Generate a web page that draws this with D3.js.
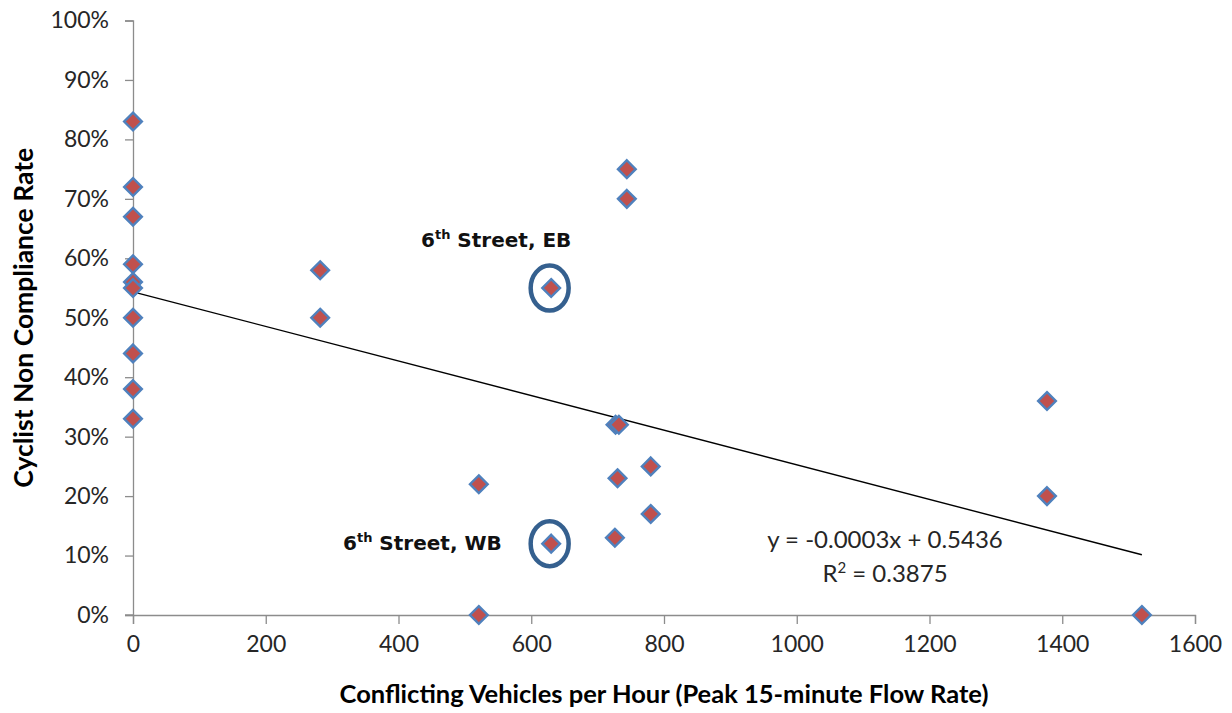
<!DOCTYPE html>
<html>
<head>
<meta charset="utf-8">
<script src="https://cdn.jsdelivr.net/npm/d3@7"></script>
<style>
  body { margin: 0; background: #fff; }
  svg { display: block; }
</style>
</head>
<body>
<div id="chart"></div>
<script>
// data
const flow = [0, 0, 0, 0, 0, 0, 0, 0, 0, 0,
              282, 282, 521, 521, 630, 630,
              744, 744, 727, 732, 730, 726, 780, 780,
              1377, 1377, 1520];
const rate = [0.83, 0.72, 0.67, 0.59, 0.56, 0.55, 0.50, 0.44, 0.38, 0.33,
              0.58, 0.50, 0.22, 0.00, 0.55, 0.12,
              0.75, 0.70, 0.32, 0.32, 0.23, 0.13, 0.25, 0.17,
              0.36, 0.20, 0.00];
const xTicks = [0, 200, 400, 600, 800, 1000, 1200, 1400, 1600];
const yTicks = [0, 0.1, 0.2, 0.3, 0.4, 0.5, 0.6, 0.7, 0.8, 0.9, 1.0];
// trendline (as drawn by the spreadsheet)
const trendSlope = -0.000291, trendIntercept = 0.5436;
const trendLabel = ["y = -0.0003x + 0.5436", "R", "2", " = 0.3875"];
// highlighted points
const callouts = [
  {x: 630, y: 0.55, label: "Street, EB", lx: 421, ly: 247},
  {x: 630, y: 0.12, label: "Street, WB", lx: 343, ly: 550}
];

const width = 1232, height = 713;
const margin = {top: 20.5, right: 37, bottom: 98, left: 133};

const svg = d3.select('#chart').append('svg')
    .attr('width', width)
    .attr('height', height);

const x = d3.scaleLinear().domain([0, 1600]).range([margin.left, width - margin.right]);
const y = d3.scaleLinear().domain([0, 1]).range([height - margin.bottom, margin.top]);

const font = "Lato, 'Open Sans', sans-serif";
const axisColor = '#8c8c8c';

// y axis
const yAxis = svg.append('g')
    .attr('transform', 'translate(' + x(0) + ',0)')
    .call(d3.axisLeft(y).tickValues(yTicks).tickFormat(d3.format('.0%')).tickSize(8).tickPadding(16));
// x axis
const xAxis = svg.append('g')
    .attr('transform', 'translate(0,' + y(0) + ')')
    .call(d3.axisBottom(x).tickValues(xTicks).tickFormat(d3.format('d')).tickSize(9).tickPadding(12));

[yAxis, xAxis].forEach(function(g){
    g.select('.domain').attr('stroke', axisColor).attr('stroke-width', 1.3);
    g.selectAll('.tick line').attr('stroke', axisColor).attr('stroke-width', 1.3);
    g.selectAll('.tick text')
        .attr('fill', '#262626')
        .style('font-family', font)
        .style('font-size', '23px');
});
// x axis line starts at the left end of the 0% tick
svg.append('line')
    .attr('x1', x(0) - 8).attr('x2', x(0))
    .attr('y1', y(0)).attr('y2', y(0))
    .attr('stroke', axisColor).attr('stroke-width', 1.3);

// axis titles
svg.append('text')
    .attr('x', (x(0) + x(1600)) / 2)
    .attr('y', 703)
    .attr('text-anchor', 'middle')
    .style('font-family', font)
    .style('font-weight', 'bold')
    .style('font-size', '25.5px')
    .text('Conflicting Vehicles per Hour (Peak 15-minute Flow Rate)');

svg.append('text')
    .attr('transform', 'translate(33,' + (y(0) + y(1)) / 2 + ') rotate(-90)')
    .attr('text-anchor', 'middle')
    .style('font-family', font)
    .style('font-weight', 'bold')
    .style('font-size', '26.5px')
    .text('Cyclist Non Compliance Rate');

// trendline
const xMax = d3.max(flow);
svg.append('line')
    .attr('x1', x(0)).attr('y1', y(trendIntercept))
    .attr('x2', x(xMax)).attr('y2', y(trendIntercept + trendSlope * xMax))
    .attr('stroke', '#000')
    .attr('stroke-width', 1.4);

// points
const diamond = d3.symbol().type(d3.symbolDiamond2).size(200);
svg.append('g')
    .selectAll('path')
    .data(flow.map(function(d, i){ return {x: d, y: rate[i]}; }))
    .enter().append('path')
    .attr('transform', function(d){ return 'translate(' + x(d.x) + ',' + y(d.y) + ')'; })
    .attr('d', diamond)
    .attr('fill', '#c0504d')
    .attr('stroke', '#4f81bd')
    .attr('stroke-width', 2.4);

// callout rings + labels
const co = svg.append('g');
co.selectAll('ellipse')
    .data(callouts)
    .enter().append('ellipse')
    .attr('cx', function(d){ return x(d.x) - 1.5; })
    .attr('cy', function(d){ return y(d.y); })
    .attr('rx', 19)
    .attr('ry', 22.5)
    .attr('fill', 'none')
    .attr('stroke', '#35608f')
    .attr('stroke-width', 4.5);

const labelFont = "'DejaVu Sans', Verdana, sans-serif";
const lab = co.selectAll('text')
    .data(callouts)
    .enter().append('text')
    .attr('x', function(d){ return d.lx; })
    .attr('y', function(d){ return d.ly; })
    .style('font-family', labelFont)
    .style('font-weight', 'bold')
    .style('font-size', '20px')
    .attr('fill', '#111');
lab.append('tspan').text('6');
lab.append('tspan').attr('dy', -8).style('font-size', '13px').text('th');
lab.append('tspan').attr('dy', 8).text(function(d){ return '\u00a0' + d.label; });

// trendline equation
const eq = svg.append('text')
    .attr('text-anchor', 'middle')
    .style('font-family', font)
    .style('font-size', '24px')
    .attr('fill', '#262626');
eq.append('tspan').attr('x', 885).attr('y', 548).text(trendLabel[0]);
const r2 = svg.append('text')
    .attr('x', 885).attr('y', 582)
    .attr('text-anchor', 'middle')
    .style('font-family', font)
    .style('font-size', '24px')
    .attr('fill', '#262626');
r2.append('tspan').text(trendLabel[1]);
r2.append('tspan').attr('dy', -9).style('font-size', '15px').text(trendLabel[2]);
r2.append('tspan').attr('dy', 9).text(trendLabel[3]);
</script>
</body>
</html>
